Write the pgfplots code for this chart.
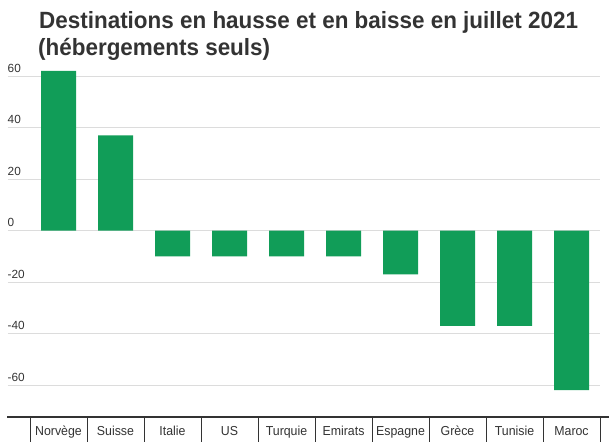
\documentclass[border=0pt]{standalone}
\usepackage{fontspec}
\setmainfont{Liberation Sans}
\newfontfamily\titlefont[FakeStretch=0.955]{Liberation Sans}
\newfontfamily\labfont[FakeStretch=0.95]{Liberation Sans}
\usepackage{pgfplots}
\pgfplotsset{compat=1.18}
\definecolor{barg}{RGB}{17,157,88}
\definecolor{txt}{RGB}{51,51,51}
\definecolor{gridc}{RGB}{220,220,220}
\begin{document}
\begin{tikzpicture}
  \path[use as bounding box] (0,0) rectangle (609pt,-447pt);
  % title, two lines
  \node[anchor=base west, inner sep=0pt, text=txt] at (39pt,-28pt)
    {\titlefont\bfseries\fontsize{23.5}{28}\selectfont Destinations en hausse et en baisse en juillet 2021};
  \node[anchor=base west, inner sep=0pt, text=txt] at (38pt,-55.5pt)
    {\titlefont\bfseries\fontsize{23.5}{28}\selectfont (hébergements seuls)};
  \begin{axis}[
      at={(8pt,-417pt)}, anchor=south west,
      scale only axis,
      width=592pt, height=351.2pt,
      xmin=-0.886, xmax=9.5,
      ymin=-72.4, ymax=64,
      axis x line*=bottom,
      axis y line*=left,
      x axis line style={draw=none},
      y axis line style={draw=none},
      ybar, bar width=35pt,
      xtick={0,...,9},
      xticklabels={Norvège,Suisse,Italie,US,Turquie,Emirats,Espagne,Grèce,Tunisie,Maroc},
      minor xtick={-0.5,0.5,...,9.5},
      tick align=outside,
      major tick length=0pt,
      minor tick length=24.5pt,
      minor tick style={draw=txt, line width=0.8pt},
      major tick style={draw=none},
      xticklabel style={anchor=base, yshift=-18pt, text=txt,
        font=\labfont\fontsize{13}{15}\selectfont},
      ytick={-60,-40,-20,0,20,40,60},
      yticklabels={-60,-40,-20,0,20,40,60},
      yticklabel style={anchor=south west, inner sep=0pt, xshift=-0.5pt, yshift=3.5pt, text=txt,
        font=\fontsize{11.8}{14}\selectfont},
      ymajorgrids,
      major grid style={draw=gridc, line width=0.8pt},
      clip=false,
    ]
    \addplot[fill=barg, draw=none] coordinates {
      (0, 62) (1, 37) (2, -10) (3, -10) (4, -10)
      (5, -10) (6, -17) (7, -37) (8, -37) (9, -62)
    };
  \end{axis}
  % baseline
  \draw[draw=txt, line width=1.8pt] (7pt,-417pt) -- (609pt,-417pt);
\end{tikzpicture}
\end{document}
